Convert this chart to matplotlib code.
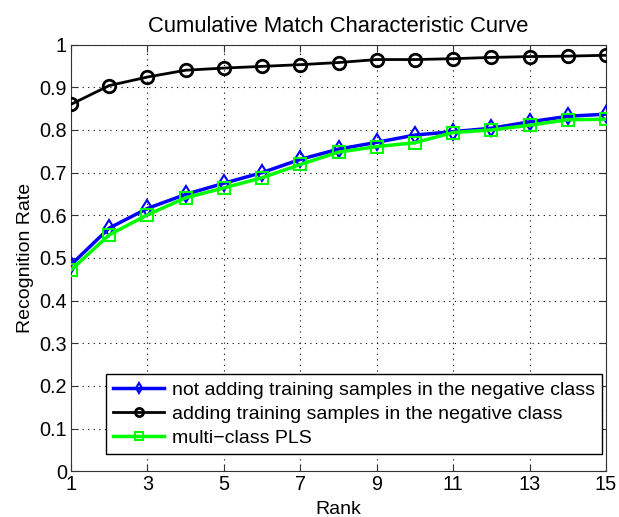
import matplotlib
matplotlib.use("Agg")
import matplotlib.pyplot as plt

plt.rcParams['font.family'] = ['Liberation Sans', 'DejaVu Sans']

rank = list(range(1, 16))
not_adding = [0.484, 0.570, 0.616, 0.649, 0.675, 0.700, 0.731, 0.755, 0.771, 0.788, 0.796, 0.804, 0.819, 0.832, 0.837]
adding = [0.860, 0.904, 0.924, 0.940, 0.945, 0.949, 0.953, 0.958, 0.965, 0.965, 0.967, 0.970, 0.972, 0.973, 0.975]
multi_pls = [0.472, 0.554, 0.601, 0.641, 0.664, 0.688, 0.719, 0.748, 0.761, 0.770, 0.794, 0.800, 0.811, 0.824, 0.825]
labels = ["not adding training samples in the negative class",
          "adding training samples in the negative class",
          "multi\u2212class PLS"]
xticks = [1, 3, 5, 7, 9, 11, 13, 15]
yticks = [0, 0.1, 0.2, 0.3, 0.4, 0.5, 0.6, 0.7, 0.8, 0.9, 1]
yticklabels = ["0", "0.1", "0.2", "0.3", "0.4", "0.5", "0.6", "0.7", "0.8", "0.9", "1"]

fig = plt.figure(figsize=(6.19, 5.17), dpi=100)
ax = fig.add_axes([0.1147, 0.0885, 0.979 - 0.1147, 0.9137 - 0.0885])

ax.plot(rank, not_adding, color='#0000ff', lw=2.5, marker='d', ms=8, mfc='none', mec='#0000ff', mew=1.5, label=labels[0], zorder=3)
ax.plot(rank, adding, color='black', lw=2, marker='o', ms=9, mfc='none', mec='black', mew=2, label=labels[1], zorder=3)
ax.plot(rank, multi_pls, color='#00ff00', lw=2.5, marker='s', ms=8, mfc='none', mec='#00ff00', mew=1.5, label=labels[2], zorder=4)

ax.set_xlim(1, 15)
ax.set_ylim(0, 1)
ax.set_xticks(xticks)
ax.set_yticks(yticks)
ax.set_yticklabels(yticklabels)
ax.tick_params(direction='in', labelsize=14.3, top=True, right=True, length=5, color='#333333', pad=3)
ax.grid(True, linestyle=(0, (1, 4)), color='black', lw=0.8)
for s in ax.spines.values():
    s.set_color('#333333')
ax.set_title("Cumulative Match Characteristic Curve", fontsize=15.8, pad=9)
ax.set_xlabel("Rank", fontsize=14, labelpad=5)
ax.set_ylabel("Recognition Rate", fontsize=14, labelpad=4)

leg = ax.legend(loc='lower right', bbox_to_anchor=(0.9925, 0.04), fontsize=14, fancybox=False, framealpha=1,
                edgecolor='black', handlelength=2.6, handletextpad=0.4, borderpad=0.38,
                labelspacing=0.32, markerscale=0.65, borderaxespad=0)
leg.get_frame().set_linewidth(1.0)

fig.savefig("out.png", dpi=100)
